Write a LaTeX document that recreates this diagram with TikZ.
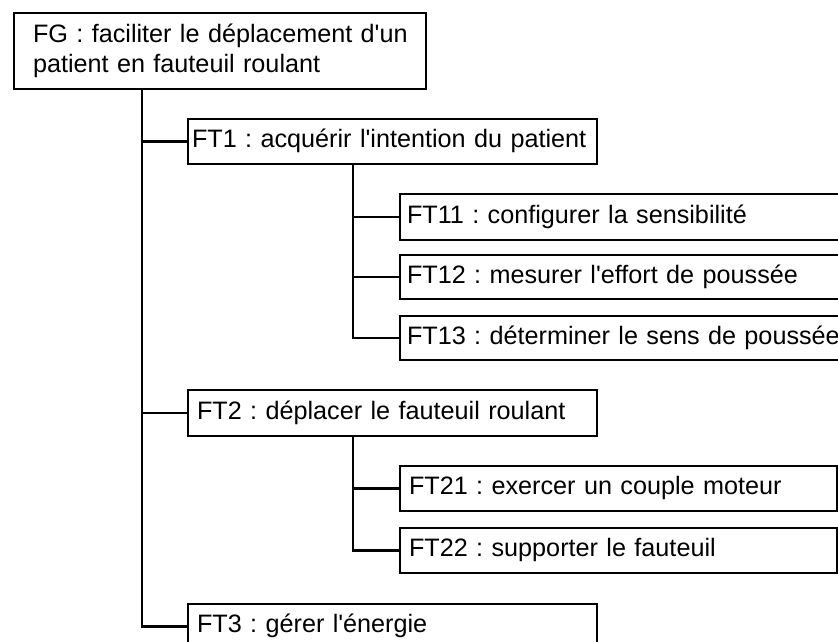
\documentclass[tikz,border=0pt]{standalone}
\usepackage{fontspec}
\setmainfont{Liberation Sans}
\frenchspacing
\newcommand{\apos}{\textquotesingle}
\begin{document}
\begin{tikzpicture}[x=1pt,y=-1pt,
  line width=2pt,
  funcbox/.style={draw=black, line width=2pt, rectangle, anchor=north west, inner ysep=0pt,
    font=\frenchspacing\fontsize{25.2}{30}\selectfont, align=left},
  oneline/.style={funcbox, text height=18.1pt, text depth=5.4pt},
  conn/.style={draw=black, line width=2.2pt}]
\clip (0,0) rectangle (838,641);
\fill[white] (0,0) rectangle (838,641);

\node[funcbox, inner xsep=19pt, text width=374pt, minimum height=76pt] (FG) at (13,12)
  {\mbox{FG : faciliter le déplacement d\apos un}\\\mbox{patient en fauteuil roulant}};

\node[oneline, inner xsep=4pt, text width=401pt, minimum height=45pt] (FT1) at (187,118)
  {\mbox{FT1 : acquérir l\apos intention du patient}};
\node[oneline, inner xsep=7pt, text width=446pt, minimum height=46pt] (FT11) at (399,193)
  {\mbox{FT11 : configurer la sensibilité}};
\node[oneline, inner xsep=7pt, text width=446pt, minimum height=44pt] (FT12) at (399,254)
  {\mbox{FT12 : mesurer l\apos effort de poussée}};
\node[oneline, inner xsep=7pt, text width=446pt, minimum height=44pt] (FT13) at (399,315)
  {\mbox{FT13 : déterminer le sens de poussée}};

\node[oneline, inner xsep=9pt, text width=391pt, minimum height=46pt] (FT2) at (187,389)
  {\mbox{FT2 : déplacer le fauteuil roulant}};
\node[oneline, inner xsep=9pt, text width=419pt, minimum height=45pt] (FT21) at (399,465)
  {\mbox{FT21 : exercer un couple moteur}};
\node[oneline, inner xsep=9pt, text width=419pt, minimum height=45pt] (FT22) at (399,527)
  {\mbox{FT22 : supporter le fauteuil}};

\node[oneline, inner xsep=9pt, text width=391pt, minimum height=45pt] (FT3) at (187,603)
  {\mbox{FT3 : gérer l\apos énergie}};

% trunk from FG
\coordinate (t0) at ([xshift=129pt]FG.south west);
\draw[conn] (t0) |- (FT3.west);
\draw[conn] (FT1.west) -- (FT1.west -| t0);
\draw[conn] (FT2.west) -- (FT2.west -| t0);

% sub-trunk from FT1
\coordinate (s1) at ([xshift=166pt]FT1.south west);
\draw[conn] (s1) |- (FT13.west);
\draw[conn] (FT11.west) -- (FT11.west -| s1);
\draw[conn] (FT12.west) -- (FT12.west -| s1);

% sub-trunk from FT2
\coordinate (s2) at ([xshift=166pt]FT2.south west);
\draw[conn] (s2) |- (FT22.west);
\draw[conn] (FT21.west) -- (FT21.west -| s2);
\end{tikzpicture}
\end{document}
